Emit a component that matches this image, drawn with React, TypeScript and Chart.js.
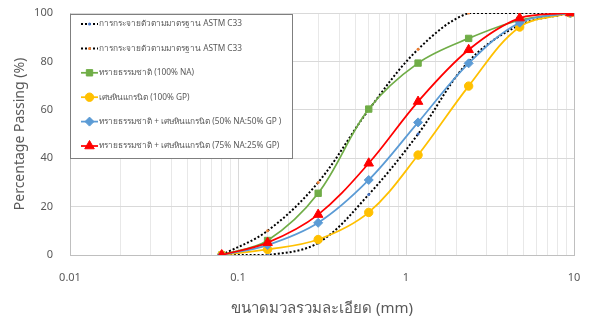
import React, { useEffect, useRef } from "react";
import { Chart, registerables } from "chart.js";
import { drawPoint } from "chart.js/helpers";

Chart.register(...registerables);

const sieveSizes = [0.08, 0.15, 0.3, 0.6, 1.18, 2.36, 4.75, 9.5];
const astmLower = [0, 0, 5, 25, 50, 80, 95, 100];
const astmUpper = [0, 10, 30, 60, 85, 100, 100, 100];
const naSand = [0, 6, 25.5, 60.3, 79.3, 89.5, 97, 100];
const graniteGP = [0, 2.3, 6.4, 17.6, 41.3, 69.8, 94.2, 100];
const mix5050 = [0, 4.1, 13.3, 31, 54.8, 79.2, 96, 100];
const mix7525 = [0, 5.1, 16.7, 37.9, 63.4, 84.8, 97.9, 100];
const xTickLabels = ["0.01", "0.1", "1", "10"];
const yTicks = [0, 20, 40, 60, 80, 100];

const legendLabels = [
  "การกระจายตัวตามมาตรฐาน ASTM C33",
  "การกระจายตัวตามมาตรฐาน ASTM C33",
  "ทรายธรรมชาติ (100% NA)",
  "เศษหินแกรนิต (100% GP)",
  "ทรายธรรมชาติ + เศษหินแกรนิต (50% NA:50% GP )",
  "ทรายธรรมชาติ + เศษหินแกรนิต (75% NA:25% GP)",
];

const FONT = "'Noto Sans', 'DejaVu Sans', sans-serif";
const TEXT = "#595959";

const toPts = (ys: number[]) => sieveSizes.map((x, i) => ({ x, y: ys[i] }));

const legendPlugin = {
  id: "boxLegend",
  afterDraw(chart: any) {
    const ctx = chart.ctx as CanvasRenderingContext2D;
    const left = chart.chartArea.left;
    const top = chart.chartArea.top + 1;
    const w = 222;
    const h = 144;
    ctx.save();
    ctx.fillStyle = "#ffffff";
    ctx.fillRect(left, top, w, h);
    ctx.strokeStyle = "#7f7f7f";
    ctx.lineWidth = 1;
    ctx.strokeRect(Math.round(left) + 0.5, Math.round(top) + 0.5, w, h);
    const datasets = chart.data.datasets;
    for (let i = 0; i < datasets.length; i++) {
      const ds = datasets[i];
      const y = top + 10 + i * 24.4;
      const x0 = left + 11;
      const x1 = left + 28;
      const xm = (x0 + x1) / 2;
      ctx.beginPath();
      ctx.strokeStyle = ds.borderColor;
      ctx.lineWidth = ds.borderWidth;
      ctx.setLineDash(ds.borderDash || []);
      ctx.moveTo(x0, y);
      ctx.lineTo(x1, y);
      ctx.stroke();
      ctx.setLineDash([]);
      const meta = chart.getDatasetMeta(i);
      const el = meta.data[0];
      if (el) {
        const o = el.options;
        ctx.fillStyle = o.backgroundColor;
        ctx.strokeStyle = o.borderColor;
        ctx.lineWidth = o.borderWidth;
        drawPoint(ctx, { pointStyle: o.pointStyle, rotation: 0, radius: o.radius, borderWidth: o.borderWidth } as any, xm, y);
      }
      ctx.fillStyle = TEXT;
      ctx.font = `8.3px ${FONT}`;
      ctx.textBaseline = "middle";
      ctx.textAlign = "left";
      ctx.fillText(legendLabels[i], x1 + 1, y);
    }
    ctx.restore();
  },
};

export default function App() {
  const ref = useRef<HTMLCanvasElement | null>(null);
  useEffect(() => {
    if (!ref.current) return;
    const dotted = (ys: number[], pc: string, order: number) => ({
      data: toPts(ys),
      borderColor: "#000000",
      borderWidth: 2,
      borderDash: [2, 2],
      pointStyle: "circle",
      pointRadius: 1.5,
      pointBorderWidth: 0,
      pointBackgroundColor: pc,
      pointBorderColor: pc,
      tension: 0.35,
      order,
    });
    const solid = (ys: number[], c: string, style: string, r: number, order: number) => ({
      data: toPts(ys),
      borderColor: c,
      borderWidth: 1.75,
      pointStyle: style,
      pointRadius: r,
      pointBorderWidth: 1,
      pointBackgroundColor: c,
      pointBorderColor: c,
      tension: 0.35,
      order,
    });
    const chart = new Chart(ref.current, {
      type: "line",
      data: {
        datasets: [
          dotted(astmLower, "#4472c4", 5),
          dotted(astmUpper, "#ed7d31", 4),
          solid(naSand, "#70ad47", "rect", 4.5, 3),
          solid(graniteGP, "#ffc000", "circle", 4.2, 2),
          solid(mix5050, "#5b9bd5", "rectRot", 4.5, 1),
          solid(mix7525, "#ff0000", "triangle", 5.5, 0),
        ] as any,
      },
      options: {
        animation: false,
        responsive: false,
        maintainAspectRatio: false,
        layout: { padding: { left: 0, right: 16, top: 13, bottom: 0 } },
        plugins: {
          legend: { display: false },
          tooltip: { enabled: false },
        },
        scales: {
          x: {
            type: "logarithmic",
            min: 0.01,
            max: 10,
            afterFit: (s: any) => {
              s.height = 67;
              s.paddingLeft = 0;
              s.paddingRight = 0;
            },
            grid: {
              color: (c: any) => {
                const v = c.tick ? c.tick.value : 1;
                const l = Math.log10(v);
                return Math.abs(l - Math.round(l)) < 1e-6 ? "#d9d9d9" : "#e8e8e8";
              },
              drawTicks: false,
            },
            border: { color: "#bfbfbf", width: 1 },
            ticks: {
              autoSkip: false,
              maxRotation: 0,
              padding: 16,
              color: TEXT,
              font: { family: FONT, size: 11 },
              callback: (v: any) => {
                const l = Math.log10(Number(v));
                if (Math.abs(l - Math.round(l)) < 1e-6) {
                  return xTickLabels[Math.round(l) + 2];
                }
                return "";
              },
            },
            title: {
              display: true,
              text: "ขนาดมวลรวมละเอียด (mm)",
              color: TEXT,
              font: { family: FONT, size: 15 },
              padding: { top: 0, bottom: 4 },
            },
          },
          y: {
            min: 0,
            max: 100,
            afterFit: (s: any) => {
              s.width = 70;
              s.paddingTop = 0;
              s.paddingBottom = 0;
            },
            afterBuildTicks: (s: any) => {
              s.ticks = yTicks.map((v) => ({ value: v }));
            },
            grid: { color: "#d9d9d9", drawTicks: false },
            border: { color: "#bfbfbf", width: 1 },
            ticks: {
              padding: 17,
              color: TEXT,
              font: { family: FONT, size: 11 },
            },
            title: {
              display: true,
              text: "Percentage Passing (%)",
              color: TEXT,
              font: { family: FONT, size: 14 },
              padding: { top: 12, bottom: 0 },
            },
          },
        },
      } as any,
      plugins: [
        legendPlugin,
        {
          id: "frame",
          afterDatasetsDraw(chart: any) {
            const { ctx, chartArea: a } = chart;
            ctx.save();
            ctx.strokeStyle = "#bfbfbf";
            ctx.lineWidth = 1;
            ctx.beginPath();
            ctx.moveTo(Math.round(a.right) + 0.5, a.top);
            ctx.lineTo(Math.round(a.right) + 0.5, a.bottom);
            ctx.stroke();
            ctx.restore();
          },
        },
      ],
    });
    return () => chart.destroy();
  }, []);
  return (
    <div style={{ position: "absolute", left: 0, top: 0, width: 590, height: 322, background: "#fff" }}>
      <canvas ref={ref} width={590} height={322} style={{ width: 590, height: 322 }} />
    </div>
  );
}
